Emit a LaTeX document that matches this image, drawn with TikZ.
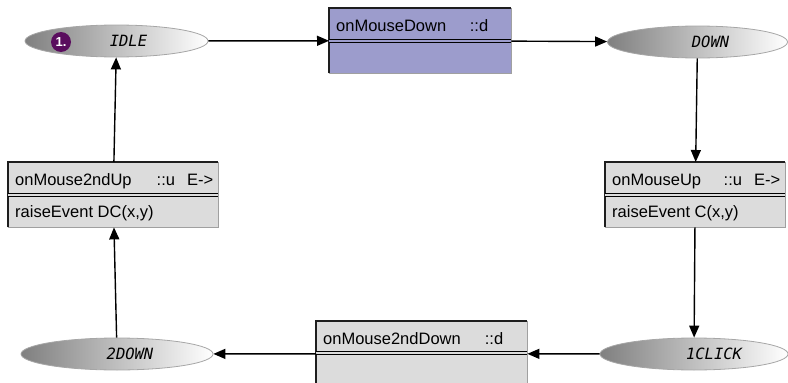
\documentclass[tikz,border=0pt]{standalone}
\usepackage{fontspec}
\setmainfont{Liberation Sans}
\newfontfamily\statefont{DejaVu Sans Mono}
\usepackage{tikz}
\usetikzlibrary{shapes.geometric, arrows.meta, positioning, calc}
\definecolor{downfill}{HTML}{9C9CCC}
\definecolor{boxfill}{HTML}{DCDCDC}
\definecolor{badgefill}{HTML}{5A0D5E}
\definecolor{rimdark}{HTML}{1E1E1E}
\definecolor{rimlight}{HTML}{A0A0A0}
\tikzset{
  state/.style={ellipse, draw=black!35, line width=0.8pt, left color=black!50, middle color=black!7, right color=white, minimum height=32pt, inner sep=0pt},
  statelab/.style={font=\statefont\itshape\fontsize{15.5}{15.5}\selectfont, inner sep=0pt},
  badge/.style={circle, fill=badgefill, text=white, font=\bfseries\fontsize{13}{13}\selectfont, minimum size=20pt, inner sep=0pt},
  evbox/.style={rectangle, draw=none, minimum height=65pt, inner sep=0pt, anchor=north west},
  hdr/.style={font=\fontsize{16.5}{18}\selectfont, inner sep=0pt},
  rimhi/.style={draw=rimdark, line width=1.2pt},
  rimlo/.style={draw=rimlight, line width=1.2pt},
  dbl/.style={draw=black, line width=1.1pt, double=#1, double distance=1.4pt},
  edgearr/.style={-{Triangle[length=12pt,width=10pt]}, line width=1.4pt, draw=black},
}
\begin{document}
\begin{tikzpicture}[x=1pt, y=-1pt]
  \useasboundingbox (0,0) rectangle (788,383);
  % states
  \node[state, minimum width=183pt] (idle) at (116.5,41) {};
  \node[statelab] (idlelab) at ([xshift=12pt]idle.center) {IDLE};
  \node[badge] (start) at (61,42) {1.};
  \node[state, minimum width=180pt] (down) at (697.5,42) {};
  \node[statelab] (downlab) at ([xshift=13pt]down.center) {DOWN};
  \node[state, minimum width=188pt] (click) at (694,354) {};
  \node[statelab] (clicklab) at ([xshift=20pt]click.center) {1CLICK};
  \node[state, minimum width=192pt] (ddown) at (117,354) {};
  \node[statelab] (ddownlab) at ([xshift=13pt]ddown.center) {2DOWN};
  % event boxes
  \node[evbox, fill=downfill, minimum width=182pt] (md) at (329,8) {};
  \draw[rimlo] (md.north east) -- (md.south east) -- (md.south west);
  \draw[rimhi] (md.south west) -- (md.north west) -- (md.north east);
  \draw[dbl=downfill] ([yshift=-33pt]md.north west) -- ([yshift=-33pt]md.north east);
  \node[hdr, anchor=base west] (mdname) at ([xshift=7pt,yshift=-23pt]md.north west) {onMouseDown};
  \node[hdr, anchor=base east] (mdtag) at ([xshift=-23pt,yshift=-23pt]md.north east) {::d};

  \node[evbox, fill=boxfill, minimum width=180pt] (mu) at (605,162) {};
  \draw[rimlo] (mu.north east) -- (mu.south east) -- (mu.south west);
  \draw[rimhi] (mu.south west) -- (mu.north west) -- (mu.north east);
  \draw[dbl=boxfill] ([yshift=-33pt]mu.north west) -- ([yshift=-33pt]mu.north east);
  \node[hdr, anchor=base west] (muname) at ([xshift=7pt,yshift=-23pt]mu.north west) {onMouseUp};
  \node[hdr, anchor=base east] (mutag) at ([xshift=-5pt,yshift=-23pt]mu.north east) {::u\hspace{12pt}E->};
  \node[hdr, anchor=base west] (mubody) at ([xshift=7pt,yshift=-55pt]mu.north west) {raiseEvent C(x,y)};

  \node[evbox, fill=boxfill, minimum width=210pt] (m2u) at (8,162) {};
  \draw[rimlo] (m2u.north east) -- (m2u.south east) -- (m2u.south west);
  \draw[rimhi] (m2u.south west) -- (m2u.north west) -- (m2u.north east);
  \draw[dbl=boxfill] ([yshift=-33pt]m2u.north west) -- ([yshift=-33pt]m2u.north east);
  \node[hdr, anchor=base west] (m2uname) at ([xshift=7pt,yshift=-23pt]m2u.north west) {onMouse2ndUp};
  \node[hdr, anchor=base east] (m2utag) at ([xshift=-5pt,yshift=-23pt]m2u.north east) {::u\hspace{12pt}E->};
  \node[hdr, anchor=base west] (m2ubody) at ([xshift=7pt,yshift=-55pt]m2u.north west) {raiseEvent DC(x,y)};

  \node[evbox, fill=boxfill, minimum width=211pt] (m2d) at (316,321) {};
  \draw[rimlo] (m2d.north east) -- (m2d.south east) -- (m2d.south west);
  \draw[rimhi] (m2d.south west) -- (m2d.north west) -- (m2d.north east);
  \draw[dbl=boxfill] ([yshift=-32pt]m2d.north west) -- ([yshift=-32pt]m2d.north east);
  \node[hdr, anchor=base west] (m2dname) at ([xshift=7pt,yshift=-23pt]m2d.north west) {onMouse2ndDown};
  \node[hdr, anchor=base east] (m2dtag) at ([xshift=-24pt,yshift=-23pt]m2d.north east) {::d};
  % transitions
  \draw[edgearr] (idle) -- (md);
  \draw[edgearr] (md) -- (down);
  \draw[edgearr] (down) -- (mu);
  \draw[edgearr] (mu) -- (click);
  \draw[edgearr] (click) -- (m2d);
  \draw[edgearr] (m2d) -- (ddown);
  \draw[edgearr] (ddown) -- (m2u);
  \draw[edgearr] (m2u) -- (idle);
\end{tikzpicture}
\end{document}
